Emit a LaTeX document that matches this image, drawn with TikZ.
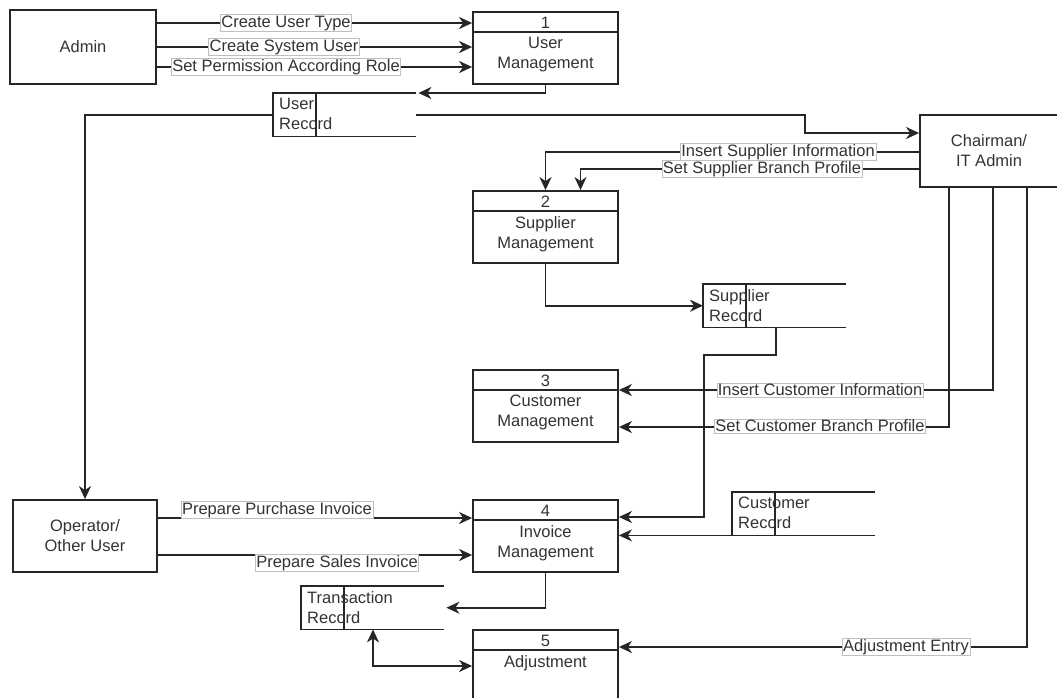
\documentclass[tikz,border=0pt]{standalone}
\usepackage{fontspec}
\setmainfont{Liberation Sans}
\usetikzlibrary{arrows.meta}
\begin{document}
\begin{tikzpicture}[x=1pt,y=-1pt,
  every node/.style={font=\fontsize{16.5}{20}\selectfont, text=black!80},
  entity/.style={draw=black!85, line width=1.8pt, inner sep=0pt, align=center},
  proc/.style={draw=black!85, line width=1.8pt, inner sep=0pt, minimum width=145pt, minimum height=72pt},
  sep/.style={draw=black!85, line width=1.7pt},
  ptext/.style={inner sep=0pt, align=center, anchor=north},
  store/.style={inner sep=0pt, minimum width=143pt, minimum height=43pt},
  storeline/.style={draw=black!85, line width=1.5pt},
  stext/.style={inner sep=0pt, align=left, anchor=north west},
  tip/.tip={Stealth[length=13pt,width=12pt,inset=4pt]},
  flow/.style={draw=black!85, line width=1.7pt, -tip},
  biflow/.style={draw=black!85, line width=1.7pt, tip-tip},
  lbl/.style={fill=white, draw=black!25, line width=0.5pt, inner sep=1pt}
]
\useasboundingbox (0,0) rectangle (1057,697);

% ---------- external entities ----------
\node[entity, minimum width=146pt, minimum height=74pt] (admin) at (83,47) {Admin};
\node[entity, minimum width=144pt, minimum height=72pt] (op) at (85,536) {Operator/\\Other User};
\node[entity, minimum width=138pt, minimum height=72pt] (ch) at (989,151) {Chairman/\\IT Admin};

% ---------- processes ----------
\foreach \name/\cy/\num/\title in {
  p1/48/1/{User\\Management},
  p2/227/2/{Supplier\\Management},
  p3/406/3/{Customer\\Management},
  p4/536/4/{Invoice\\Management},
  p5/666/5/{Adjustment}}{
  \node[proc] (\name) at (545.5,\cy) {};
  \draw[sep] ([yshift=-21pt]\name.north west) -- ([yshift=-21pt]\name.north east);
  \node at ([yshift=-11.5pt]\name.north) {\num};
  \node[ptext] at ([yshift=-26pt]\name.north) {\title};
}

% ---------- data stores ----------
\foreach \name/\x/\y/\title in {
  ur/273/93/{User\\Record},
  sr/703/284/{Supplier\\Record},
  cr/732/492/{Customer\\Record},
  tr/301/586/{Transaction\\Record}}{
  \node[store, anchor=north west] (\name) at (\x,\y) {};
  \draw[storeline] (\name.north east) -- (\name.north west) -- (\name.south west) -- (\name.south east);
  \draw[storeline] ([xshift=43pt]\name.north west) -- ([xshift=43pt]\name.south west);
  \node[stext] at ([xshift=6pt,yshift=-5pt]\name.north west) {\title};
}

% ---------- data flows ----------
% Admin -> User Management
\draw[flow] ([yshift=24pt]admin.east) -- ([yshift=24pt]admin.east -| p1.west);
\draw[flow] (admin.east) -- (admin.east -| p1.west);
\draw[flow] ([yshift=-20pt]admin.east) -- ([yshift=-20pt]admin.east -| p1.west);
\node[lbl] at (286,23) {Create User Type};
\node[lbl] at (284,47) {Create System User};
\node[lbl] at (286,67) {Set Permission According Role};

% User Management -> User Record
\draw[flow] (p1.south) |- ([xshift=2pt]ur.north east);

% User Record -> Operator, Chairman
\draw[flow] (ur.west) -| (op.north);
\coordinate (bendA) at (805,133);
\draw[flow] (ur.east) -| (bendA) -- ([yshift=18pt]ch.west);

% Chairman -> Supplier Management
\draw[flow] ([yshift=-1pt]ch.west) -| (p2.north);
\draw[flow] ([yshift=-18pt]ch.west) -| ([xshift=35pt]p2.north);
\node[lbl] at (778,152) {Insert Supplier Information};
\node[lbl] at (762,169) {Set Supplier Branch Profile};

% Supplier Management -> Supplier Record
\draw[flow] (p2.south) |- (sr.west);

% Supplier Record -> Invoice Management
\coordinate (bendB) at (704,355);
\draw[flow] ([xshift=73pt]sr.south west) |- (bendB) |- ([yshift=19pt]p4.east);

% Chairman -> Customer Management
\draw[flow] ([xshift=4pt]ch.south) |- ([yshift=16pt]p3.east);
\draw[flow] ([xshift=-40pt]ch.south) |- ([yshift=-21pt]p3.east);
\node[lbl] at (820,390) {Insert Customer Information};
\node[lbl] at (820,426) {Set Customer Branch Profile};

% Customer Record -> Invoice Management
\draw[flow] (cr.south west) -- (cr.south west -| p4.east);

% Operator -> Invoice Management
\draw[flow] ([yshift=18pt]op.east) -- ([yshift=18pt]op.east -| p4.west);
\draw[flow] ([yshift=-19pt]op.east) -- ([yshift=-19pt]op.east -| p4.west);
\node[lbl] at (277,510) {Prepare Purchase Invoice};
\node[lbl] at (337,563) {Prepare Sales Invoice};

% Invoice Management -> Transaction Record
\draw[flow] (p4.south) |- ([xshift=2pt]tr.east);

% Adjustment <-> Transaction Record
\draw[biflow] (p5.west) -| ([xshift=72pt]tr.south west);

% Chairman -> Adjustment
\draw[flow] ([xshift=38pt]ch.south) |- ([yshift=19pt]p5.east);
\node[lbl] at (906,647) {Adjustment Entry};
\end{tikzpicture}
\end{document}
